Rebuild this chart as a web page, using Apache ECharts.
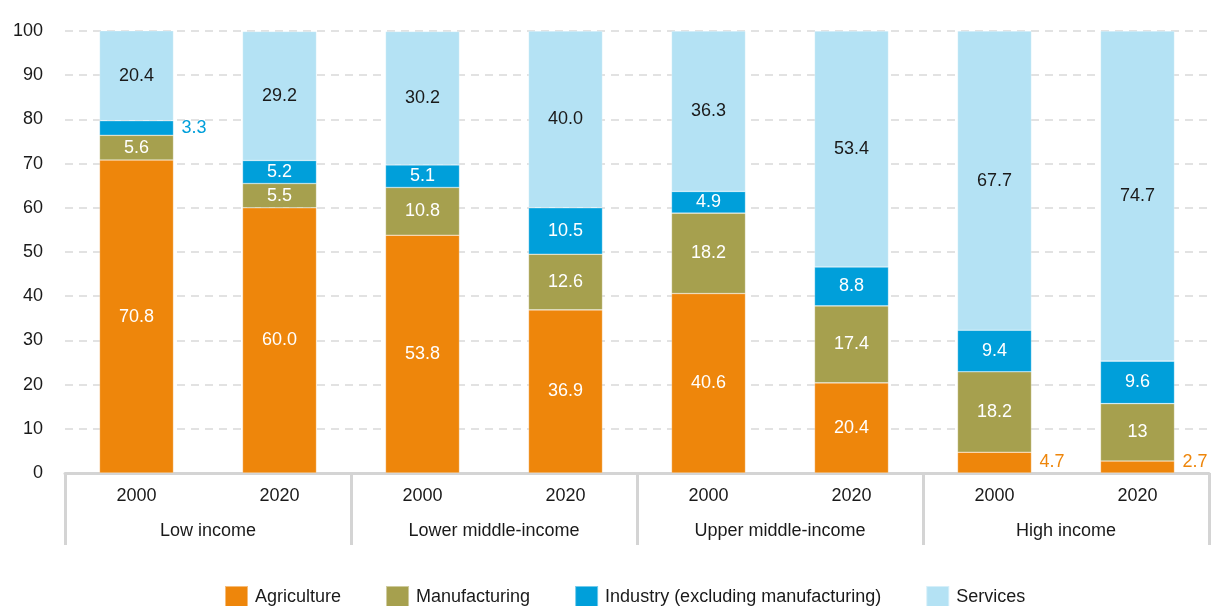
<!DOCTYPE html>
<html>
<head>
<meta charset="utf-8">
<script src="https://cdn.jsdelivr.net/npm/echarts@6/dist/echarts.min.js"></script>
<style>
  html, body { margin: 0; padding: 0; background: #ffffff; }
  #chart { width: 1213px; height: 606px; }
</style>
</head>
<body>
<div id="chart"></div>
<script>
// Employment share by sector (%), by income group, 2000 vs 2020
const years = ['2000', '2020', '2000', '2020', '2000', '2020', '2000', '2020'];
const groups = ['Low income', 'Lower middle-income', 'Upper middle-income', 'High income'];
const yTicks = [0, 10, 20, 30, 40, 50, 60, 70, 80, 90, 100];

// Values as printed on each segment
const agriculture   = ['70.8', '60.0', '53.8', '36.9', '40.6', '20.4', '4.7', '2.7'];
const manufacturing = ['5.6', '5.5', '10.8', '12.6', '18.2', '17.4', '18.2', '13'];
const industry      = ['3.3', '5.2', '5.1', '10.5', '4.9', '8.8', '9.4', '9.6'];
const services      = ['20.4', '29.2', '30.2', '40.0', '36.3', '53.4', '67.7', '74.7'];

const COLORS = {
  agriculture: '#EE860B',
  manufacturing: '#A6A04E',
  industry: '#009FDA',
  services: '#B4E2F4'
};

const FONT = '"Liberation Sans", Arial, sans-serif';
const FONT_SIZE = 18;
const TEXT = '#1a1a1a';
const AXIS_GREY = '#d4d4d4';

// Segments too thin to hold their label get it placed to the right
const outsideAgri = [6, 7];
const outsideIndustry = [0];

function buildData(values, outsideIdx, color, onAxis) {
  return values.map((s, i) => {
    const item = { value: parseFloat(s), text: s };
    if (outsideIdx.includes(i)) {
      // segments sitting on the axis: keep their label clear of the axis line
      const lift = onAxis ? Math.max(0, 5 - parseFloat(s)) * -2.2 : 0;
      item.label = { position: 'right', distance: 8, color: color, offset: [0, lift] };
    }
    return item;
  });
}

function barSeries(name, values, color, labelColor, outsideIdx, onAxis) {
  return {
    name: name,
    type: 'bar',
    stack: 'total',
    barWidth: 74,
    xAxisIndex: 0,
    itemStyle: { color: color, borderColor: 'rgba(255,255,255,0.45)', borderWidth: 0.6 },
    label: {
      show: true,
      position: 'inside',
      color: labelColor,
      fontFamily: FONT,
      fontSize: FONT_SIZE,
      formatter: p => p.data.text
    },
    emphasis: { disabled: true },
    data: buildData(values, outsideIdx, color, onAxis)
  };
}

const chart = echarts.init(document.getElementById('chart'), null, { renderer: 'canvas' });

chart.setOption({
  animation: false,
  backgroundColor: '#ffffff',
  grid: { left: 65, right: 4, top: 31, bottom: 133, containLabel: false },
  legend: {
    left: 219,
    top: 580,
    itemWidth: 23,
    itemHeight: 22,
    itemGap: 44,
    icon: 'rect',
    textStyle: { fontFamily: FONT, fontSize: FONT_SIZE, color: TEXT, padding: [0, 0, 0, 2] },
    data: ['Agriculture', 'Manufacturing', 'Industry (excluding manufacturing)', 'Services']
  },
  xAxis: [
    {
      type: 'category',
      data: years,
      position: 'bottom',
      axisLine: { show: true, lineStyle: { color: AXIS_GREY, width: 3 } },
      axisTick: { show: false },
      axisLabel: { color: TEXT, fontFamily: FONT, fontSize: FONT_SIZE, margin: 14 },
      splitLine: { show: false }
    },
    {
      type: 'category',
      data: groups,
      position: 'bottom',
      axisLine: { show: false },
      axisTick: {
        show: true,
        interval: 0,
        length: 72,
        lineStyle: { color: AXIS_GREY, width: 3 }
      },
      axisLabel: { color: TEXT, fontFamily: FONT, fontSize: FONT_SIZE, margin: 49, interval: 0 },
      splitLine: { show: false }
    }
  ],
  yAxis: {
    type: 'value',
    min: yTicks[0],
    max: yTicks[yTicks.length - 1],
    interval: yTicks[1] - yTicks[0],
    axisLine: { show: false },
    axisTick: { show: false },
    axisLabel: { color: TEXT, fontFamily: FONT, fontSize: FONT_SIZE, margin: 22 },
    splitLine: { show: true, lineStyle: { color: '#d9d9d9', width: 1.5, type: [8, 6] } }
  },
  series: [
    barSeries('Agriculture', agriculture, COLORS.agriculture, '#ffffff', outsideAgri, true),
    barSeries('Manufacturing', manufacturing, COLORS.manufacturing, '#ffffff', [], false),
    barSeries('Industry (excluding manufacturing)', industry, COLORS.industry, '#ffffff', outsideIndustry, false),
    barSeries('Services', services, COLORS.services, TEXT, [], false)
  ]
});
</script>
</body>
</html>
